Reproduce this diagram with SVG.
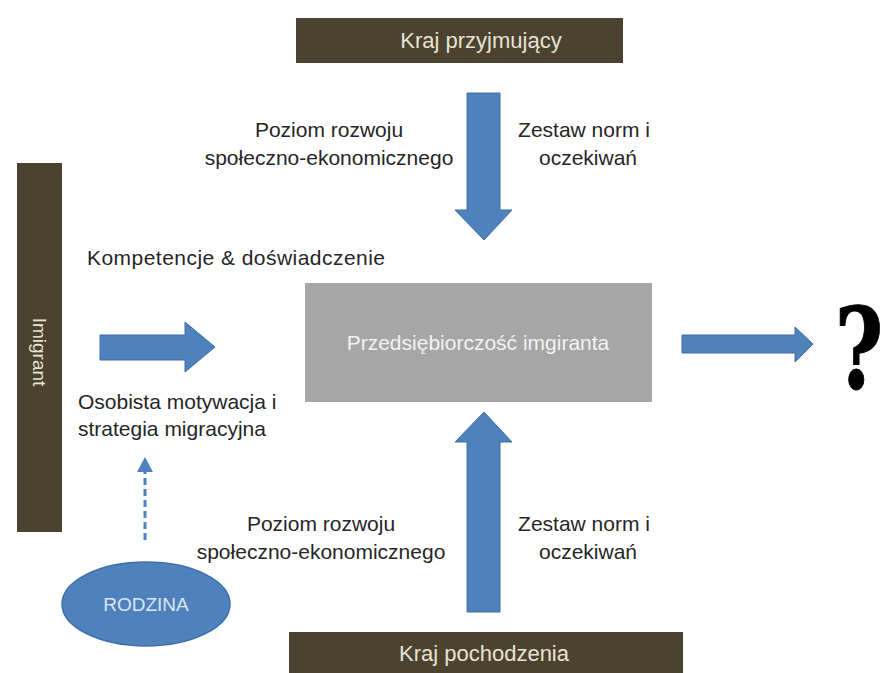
<svg xmlns="http://www.w3.org/2000/svg" width="889" height="673" viewBox="0 0 889 673">
<style>
.bar{fill:#4b4230;}
.bartxt{fill:#e8e2d2;font-family:"Liberation Sans",Arial,sans-serif;font-size:22px;text-anchor:middle;}
.lbl{fill:#262626;font-family:"Liberation Sans",Arial,sans-serif;font-size:21px;}
.mid{text-anchor:middle;}
.arrow{fill:#4f81bd;stroke:#3d6ea8;stroke-width:1;}
</style>
<rect width="889" height="673" fill="#ffffff"/>
<g id="kraj-przyjmujacy">
<rect class="bar" x="296" y="18" width="327" height="45"/>
<text class="bartxt" x="481" y="48">Kraj przyjmujący</text>
</g>
<g id="kraj-pochodzenia">
<rect class="bar" x="289" y="632" width="394" height="41"/>
<text class="bartxt" x="484" y="661">Kraj pochodzenia</text>
</g>
<g id="imigrant">
<rect class="bar" x="17" y="163" width="45" height="369"/>
<text class="bartxt" style="font-size:19px" transform="translate(33 352) rotate(90)" x="0" y="0">Imigrant</text>
</g>
<g id="przedsiebiorczosc">
<rect x="305" y="283" width="347" height="119" fill="#a6a6a6"/>
<text x="478" y="350" fill="#f2f2f2" font-family="'Liberation Sans',Arial,sans-serif" font-size="21px" text-anchor="middle">Przedsiębiorczość imgiranta</text>
</g>
<g id="rodzina">
<ellipse cx="146" cy="604" rx="84" ry="42" fill="#4f81bd" stroke="#3d6ea8" stroke-width="1.5"/>
<text x="146" y="611" fill="#dce6f4" font-family="'Liberation Sans',Arial,sans-serif" font-size="19px" text-anchor="middle">RODZINA</text>
</g>
<g id="pytanie">
<text transform="translate(859 0) scale(0.74 1)" x="0" y="388" fill="#000000" stroke="#000" stroke-width="1" font-family="'DejaVu Serif',serif" font-weight="bold" font-size="112px" text-anchor="middle">?</text>
</g>
<g id="etykiety">
<text class="lbl mid" x="329" y="137">Poziom rozwoju</text>
<text class="lbl mid" x="329" y="165">społeczno-ekonomicznego</text>
<text class="lbl mid" x="584" y="137">Zestaw norm i</text>
<text class="lbl mid" x="588" y="165">oczekiwań</text>
<text class="lbl" x="87" y="265" textLength="298">Kompetencje &amp; doświadczenie</text>
<text class="lbl" x="78" y="409">Osobista motywacja i</text>
<text class="lbl" x="78" y="436">strategia migracyjna</text>
<text class="lbl mid" x="321" y="531">Poziom rozwoju</text>
<text class="lbl mid" x="321" y="559">społeczno-ekonomicznego</text>
<text class="lbl mid" x="584" y="531">Zestaw norm i</text>
<text class="lbl mid" x="588" y="559">oczekiwań</text>
</g>
<g id="connectors">
<polygon class="arrow" points="467,93 500,93 500,210 512,210 484,240 455,210 467,210"/>
<polygon class="arrow" points="467,612 500,612 500,442 512,442 484,412 455,442 467,442"/>
<polygon class="arrow" points="100,335 185,335 185,322 215,347 185,372 185,360 100,360"/>
<polygon class="arrow" points="682,335 795,335 795,327 813,344 795,362 795,353 682,353"/>
<line x1="145" y1="540" x2="145" y2="470" stroke="#4f81bd" stroke-width="3" stroke-dasharray="7,4"/>
<polygon points="145,457 137,472 153,472" fill="#4f81bd"/>
</g>
</svg>
